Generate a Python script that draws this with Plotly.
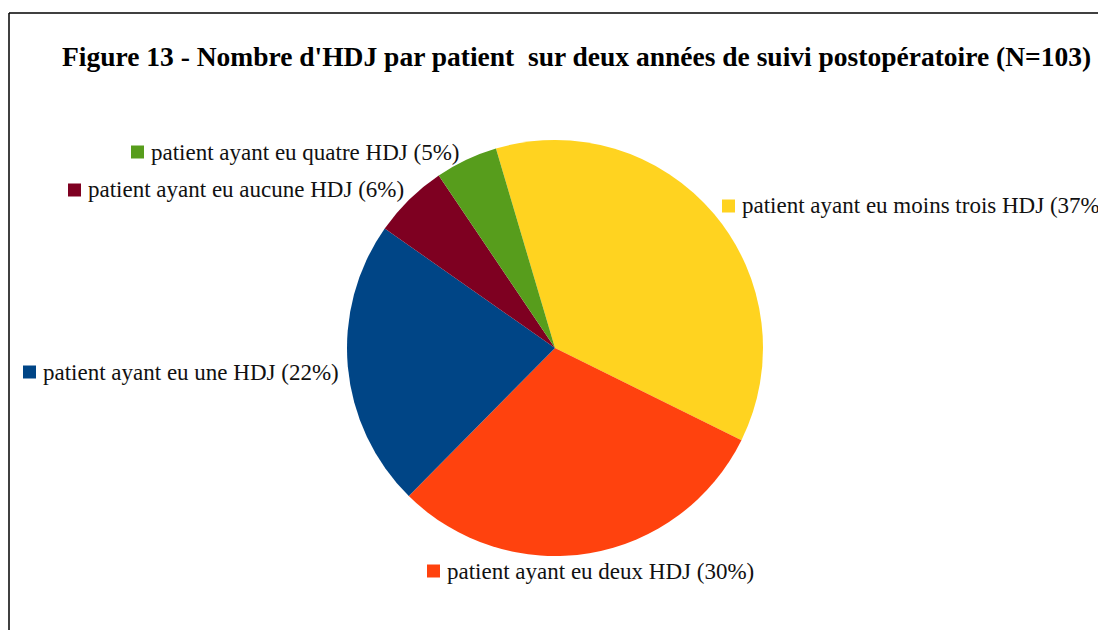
import plotly.graph_objects as go

labels = [
    "patient ayant eu moins trois HDJ",
    "patient ayant eu deux HDJ",
    "patient ayant eu une HDJ",
    "patient ayant eu aucune HDJ",
    "patient ayant eu quatre HDJ",
]
values = [38, 31, 23, 6, 5]
colors = ["#FFD320", "#FF420E", "#004586", "#7E0021", "#579D1C"]
title = "Figure 13 - Nombre d'HDJ par patient  sur deux années de suivi postopératoire (N=103)"

OFF = 8  # page body margin
W, H = 1106 - OFF, 630 - OFF
cx, cy, r = 555 - OFF, 348 - OFF, 208

# label anchor positions (screen pixels, left of square, vertical centre)
label_pos = [(722, 206), (427, 571), (23, 372), (68, 190), (131, 152)]

total = sum(values)
fig = go.Figure()
fig.add_trace(go.Pie(
    labels=labels, values=values, sort=False, direction="clockwise",
    rotation=-16.5, marker=dict(colors=colors), textinfo="none",
    hoverinfo="label+percent", showlegend=False,
    domain=dict(x=[(cx - r) / W, (cx + r) / W], y=[(H - cy - r) / H, (H - cy + r) / H]),
))

px = lambda x: (x - OFF) / W
py = lambda y: 1 - (y - OFF) / H

shapes = [dict(type="line", xref="paper", yref="paper", x0=px(9), x1=1.01, y0=py(13), y1=py(13),
               line=dict(color="black", width=1.5)),
          dict(type="line", xref="paper", yref="paper", x0=px(9), x1=px(9), y0=py(13), y1=-0.01,
               line=dict(color="black", width=1.5))]
annotations = [dict(text="<b>" + title + "</b>", x=px(577), y=py(56), xref="paper", yref="paper",
                    showarrow=False, xanchor="center", yanchor="middle",
                    font=dict(family="Liberation Serif", size=27.5, color="black"))]
sq = 13
for lab, v, c, (x, y) in zip(labels, values, colors, label_pos):
    shapes.append(dict(type="rect", xref="paper", yref="paper", x0=px(x), x1=px(x + sq),
                       y0=py(y + sq / 2), y1=py(y - sq / 2), fillcolor=c, line=dict(width=0)))
    pct = round(100 * v / total)
    annotations.append(dict(text=f"{lab} ({pct}%)", x=px(x + sq + 5), y=py(y), xref="paper", yref="paper",
                            showarrow=False, xanchor="left", yanchor="middle",
                            font=dict(family="Liberation Serif", size=23, color="#111111")))

fig.update_layout(width=W, height=H, margin=dict(l=0, r=0, t=0, b=0),
                  paper_bgcolor="white", plot_bgcolor="white",
                  shapes=shapes, annotations=annotations)
fig.write_html("out.html")
